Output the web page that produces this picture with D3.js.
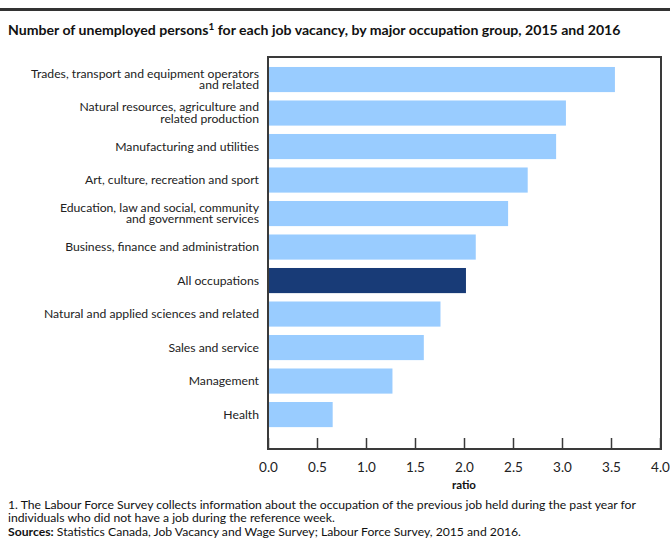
<!DOCTYPE html>
<html><head><meta charset="utf-8">
<script src="https://cdn.jsdelivr.net/npm/d3@7"></script>
<style>body{margin:0;background:#fff}svg{display:block;font-family:Lato,"Open Sans",sans-serif}</style>
</head><body>
<svg id="c" width="670" height="542"></svg>
<script>
const categories = [
  ["Trades, transport and equipment operators", "and related"],
  ["Natural resources, agriculture and", "related production"],
  ["Manufacturing and utilities"],
  ["Art, culture, recreation and sport"],
  ["Education, law and social, community", "and government services"],
  ["Business, finance and administration"],
  ["All occupations"],
  ["Natural and applied sciences and related"],
  ["Sales and service"],
  ["Management"],
  ["Health"]
];
const values = [3.54, 3.04, 2.94, 2.65, 2.45, 2.12, 2.02, 1.76, 1.59, 1.27, 0.66];
const highlight = [false, false, false, false, false, false, true, false, false, false, false];
const tickValues = [0, 0.5, 1.0, 1.5, 2.0, 2.5, 3.0, 3.5, 4.0];

const svg = d3.select("#c");
const x = d3.scaleLinear().domain([0, 4]).range([268, 660]);
const y = d3.scaleBand().domain(d3.range(categories.length)).range([58.6, 435.5]).paddingInner(0.25).paddingOuter(0.25);

// top rule
svg.append("rect").attr("x", 0).attr("y", 8).attr("width", 670).attr("height", 3).attr("fill", "#333");

// title
const t = svg.append("text").attr("x", 8).attr("y", 35).attr("font-size", 14.1).attr("font-weight", "bold").attr("fill", "#111");
t.append("tspan").text("Number of unemployed persons");
t.append("tspan").attr("font-size", 10).attr("dy", -5).text("1");
t.append("tspan").attr("dy", 5).text(" for each job vacancy, by major occupation group, 2015 and 2016");

// bars
svg.append("g").selectAll("rect").data(values).join("rect")
  .attr("x", x(0)).attr("y", (d, i) => y(i))
  .attr("width", d => x(d) - x(0)).attr("height", y.bandwidth())
  .attr("fill", (d, i) => highlight[i] ? "#183b77" : "#99ccff");

// category labels
const lg = svg.append("g").attr("font-size", 12.2).attr("fill", "#222").attr("text-anchor", "end");
categories.forEach((lines, i) => {
  const cy = y(i) + y.bandwidth() / 2;
  const lh = 11.5;
  const y0 = cy - (lines.length - 1) * lh / 2 + 4;
  const tx = lg.append("text");
  lines.forEach((l, j) => tx.append("tspan").attr("x", 259).attr("y", y0 + j * lh).text(l));
});

// frame
const fr = svg.append("g").attr("stroke", "#3a3a3a").attr("stroke-width", 2).attr("fill", "none");
fr.append("path").attr("d", `M${x(0)},449 V57 H661 V449`);
// axis
const ax = svg.append("g").attr("transform", "translate(0,449)")
  .call(d3.axisBottom(x).tickValues(tickValues).tickSize(-11).tickPadding(13).tickFormat(d3.format(".1f")));
ax.select(".domain").attr("stroke", "#3a3a3a").attr("stroke-width", 2).attr("d", `M${x(0) - 1},0H662`);
ax.selectAll(".tick line").attr("stroke", "#3a3a3a").attr("stroke-width", 1.5);
ax.selectAll(".tick text").attr("font-size", 13.5).attr("fill", "#222").attr("font-family", "Lato,'Open Sans',sans-serif");

svg.append("text").attr("x", x(2)).attr("y", 489).attr("text-anchor", "middle").attr("font-size", 11.5).attr("font-weight", "bold").attr("fill", "#111").text("ratio");

// footnotes
const fn = svg.append("g").attr("font-size", 12.2).attr("fill", "#111");
fn.append("text").attr("x", 8).attr("y", 509).text("1. The Labour Force Survey collects information about the occupation of the previous job held during the past year for");
fn.append("text").attr("x", 8).attr("y", 522).text("individuals who did not have a job during the reference week.");
const s = fn.append("text").attr("x", 8).attr("y", 536);
s.append("tspan").attr("font-weight", "bold").text("Sources:");
s.append("tspan").text(" Statistics Canada, Job Vacancy and Wage Survey; Labour Force Survey, 2015 and 2016.");
</script>
</body></html>
